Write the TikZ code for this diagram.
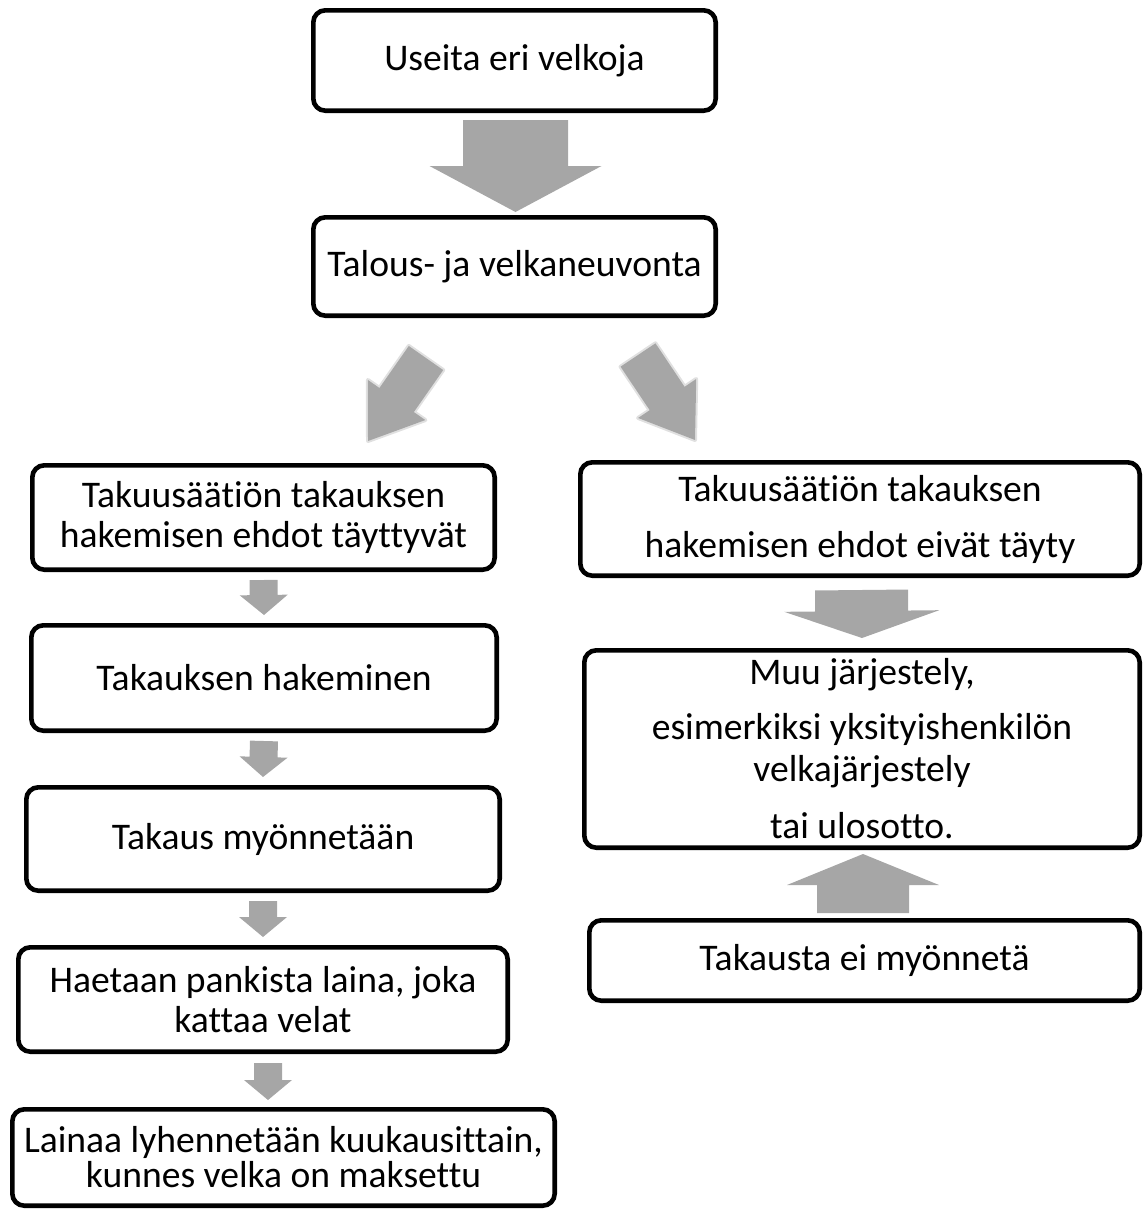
\documentclass[tikz,border=0pt]{standalone}
\usepackage{fontspec}
\setmainfont{Carlito}[Ligatures=NoCommon]
\usetikzlibrary{calc}
\definecolor{arrowgray}{RGB}{166,166,166}

% block arrow: [options]{tail}{tip}{shaft half width}{head half width}{head length}
\newcommand{\blockarrow}[6][]{%
  \coordinate (hb) at ($(#3)!#6!(#2)$);
  \fill[blockfill,#1] ($(#2)!#4!90:(#3)$) -- ($(hb)!#4!90:(#3)$) -- ($(hb)!#5!90:(#3)$) -- (#3)
    -- ($(hb)!#5!-90:(#3)$) -- ($(hb)!#4!-90:(#3)$) -- ($(#2)!#4!-90:(#3)$) -- cycle;
}

\begin{document}
\begin{tikzpicture}[
    x=0.5pt, y=-0.5pt,
    box/.style={rectangle, rounded corners=6pt, draw=black, fill=white, line width=2.3pt,
        inner sep=0pt, align=center, font=\fontsize{18.8}{20}\selectfont},
    blockfill/.style={fill=arrowgray},
    blurred/.style={draw=arrowgray, draw opacity=0.35, line width=2pt, line join=round},
]
\useasboundingbox (0,0) rectangle (1145,1211);

% Top: common path
\node[box, minimum width=201.2pt, minimum height=50.2pt] (useita) at (514.5,60.5) {Useita eri velkoja};
\node[box, minimum width=201.2pt, minimum height=49.2pt] (talous) at (514.5,266.5) {Talous- ja velkaneuvonta};

% Left column: guarantee granted
\node[box, minimum width=231.2pt, minimum height=52.2pt] (ehdot) at (263.5,517.5) {Takuusäätiön takauksen\\hakemisen ehdot täyttyvät};
\node[box, minimum width=232.7pt, minimum height=52.7pt] (hakeminen) at (264,678) {Takauksen hakeminen};
\node[box, minimum width=236.7pt, minimum height=51.7pt] (myonnetaan) at (263,839) {Takaus myönnetään};
\node[box, minimum width=244.7pt, minimum height=52.2pt] (laina) at (263,999.5) {Haetaan pankista laina, joka\\kattaa velat};
\node[box, minimum width=271.2pt, minimum height=48.2pt] (lyhennys) at (283.5,1157.5) {Lainaa lyhennetään kuukausittain,\\[-2.5pt]kunnes velka on maksettu};

% Right column: guarantee not possible
\node[box, minimum width=279.7pt, minimum height=56.7pt] (eivat) at (860,519) {Takuusäätiön takauksen\\[8pt]hakemisen ehdot eivät täyty};
\node[box, minimum width=277.7pt, minimum height=98.7pt] (muu) at (862,749) {Muu järjestely,\\[7.5pt]esimerkiksi yksityishenkilön\\[1pt]velkajärjestely\\[8.5pt]tai ulosotto.};
\node[box, minimum width=275.2pt, minimum height=40.2pt] (eimyonneta) at (864.5,960.5) {Takausta ei myönnetä};

% Big arrow
\coordinate (a1s) at ($(useita.south)+(1,7)$);
\coordinate (a1e) at ($(talous.north)+(1,-3)$);
\blockarrow{a1s}{a1e}{26.25pt}{43pt}{23pt}

% Split arrows (soft edges)
\coordinate (dls) at ($(talous.south)+(-88.5,40)$);
\coordinate (dle) at ($(ehdot.north)+(104.5,-22)$);
\blockarrow[blurred]{dls}{dle}{10.5pt}{17.5pt}{25pt}
\coordinate (drs) at ($(talous.south)+(123.5,37)$);
\coordinate (dre) at ($(eivat.north)+(-165,-20)$);
\blockarrow[blurred]{drs}{dre}{10.5pt}{17.5pt}{25pt}

% Small arrows, left column
\foreach \a/\b in {ehdot/hakeminen, hakeminen/myonnetaan, myonnetaan/laina}{
  \coordinate (s) at ($(\a.south)+(0,8)$);
  \coordinate (e) at ($(\b.north)+(0,-8)$);
  \blockarrow{s}{e}{7pt}{12pt}{10pt}
}
\coordinate (s4) at ($(laina.south)+(5,9)$);
\coordinate (e4) at ($(lyhennys.north)+(-15.5,-7)$);
\blockarrow{s4}{e4}{7pt}{12pt}{10pt}

% Right column arrows
\coordinate (r1s) at ($(eivat.south)+(1.5,12)$);
\coordinate (r1e) at ($(muu.north)+(0,-10)$);
\blockarrow{r1s}{r1e}{23.25pt}{38.75pt}{13.5pt}
\coordinate (r2s) at ($(eimyonneta.north)+(-1.5,-5)$);
\coordinate (r2e) at ($(muu.south)+(1,4)$);
\blockarrow{r2s}{r2e}{23pt}{38pt}{15.5pt}

\end{tikzpicture}
\end{document}
